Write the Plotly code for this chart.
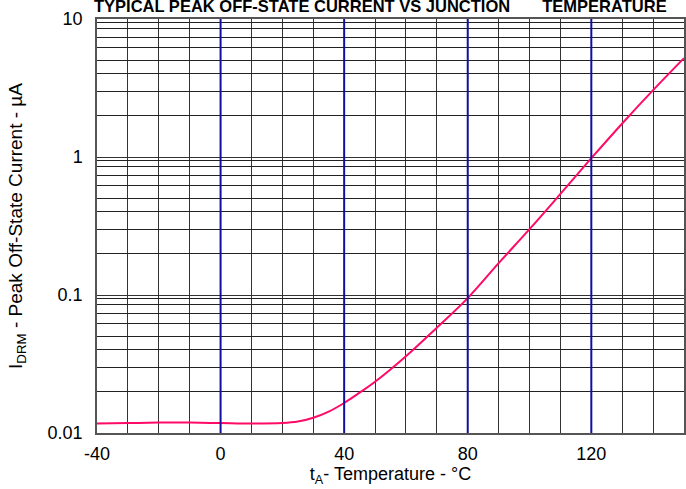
import plotly.graph_objects as go

# Data
temps = [-40, -30, -20, -10, 0, 10, 20, 25, 30, 35, 40, 45, 50, 60, 70, 80, 90, 100, 110, 120, 130, 140, 150]
current_uA = [0.0117, 0.0118, 0.0119, 0.0119, 0.0118, 0.0117, 0.0118, 0.0121, 0.0129, 0.0143, 0.0165,
              0.0196, 0.0235, 0.036, 0.058, 0.095, 0.17, 0.30, 0.54, 0.98, 1.75, 3.05, 5.2]

x_tickvals = [-40, 0, 40, 80, 120]
x_ticktext = ["-40", "0", "40", "80", "120"]
y_tickvals = [0.01, 0.1, 1, 10]
y_ticktext = ["0.01", "0.1", "1", "10"]
highlight_temps = [0, 40, 80, 120]
minor_mults = [2, 3, 4, 5, 6.2, 7.4, 8.5, 9.4]
decades = [0.01, 0.1, 1]
y_minor = [m * d for d in decades for m in minor_mults]

fig = go.Figure()

for t in highlight_temps:
    fig.add_shape(type="line", xref="x", yref="paper", x0=t, x1=t, y0=0, y1=1,
                  line=dict(color="#1010a0", width=2), layer="above")

fig.add_trace(go.Scatter(x=temps, y=current_uA, mode="lines",
                         line=dict(color="#ff0a66", width=2, shape="spline", smoothing=1.0),
                         showlegend=False, hoverinfo="skip"))

font_family = "Liberation Sans, Arial, sans-serif"

fig.update_layout(
    width=686, height=489,
    margin=dict(l=97, r=2, t=19, b=56, autoexpand=False),
    paper_bgcolor="white", plot_bgcolor="white",
    font=dict(family=font_family, size=18, color="black"),
    title=dict(text="<b>TYPICAL PEAK OFF-STATE CURRENT VS JUNCTION&nbsp;&nbsp;&nbsp;&nbsp;&nbsp;&nbsp; TEMPERATURE</b>",
               xref="container", yref="container", x=94/686, xanchor="left",
               y=1 - 6.5/489, yanchor="middle", automargin=False,
               font=dict(family=font_family, size=16.5, color="black")),
)

fig.update_xaxes(
    range=[-40, 150], tickvals=x_tickvals, ticktext=x_ticktext,
    showgrid=False, zeroline=False, automargin=False,
    ticks="outside", ticklen=4, tickcolor="rgba(0,0,0,0)",
    showline=True, mirror=True, linecolor="#555", linewidth=1.5,
    minor=dict(tick0=-40, dtick=10, showgrid=True, gridcolor="#333", gridwidth=1, ticks=""),
    title=dict(text="t<sub>A</sub>- Temperature - °C", font=dict(size=18), standoff=0),
)

fig.update_yaxes(
    type="log", range=[-2, 1], tickvals=y_tickvals, ticktext=y_ticktext,
    showgrid=True, gridcolor="#333", gridwidth=1, zeroline=False, automargin=False,
    ticks="outside", ticklen=9, tickcolor="rgba(0,0,0,0)",
    showline=True, mirror=True, linecolor="#555", linewidth=1.5,
    minor=dict(tickvals=y_minor, showgrid=True, gridcolor="#222", gridwidth=1, ticks=""),
    title=dict(text="I<sub>DRM</sub> - Peak Off-State Current - µA", font=dict(size=19), standoff=20),
)

fig.write_html(
    "out.html",
    config={"displayModeBar": False},
    post_script="document.body.style.margin='0';document.body.style.overflow='hidden';",
)
